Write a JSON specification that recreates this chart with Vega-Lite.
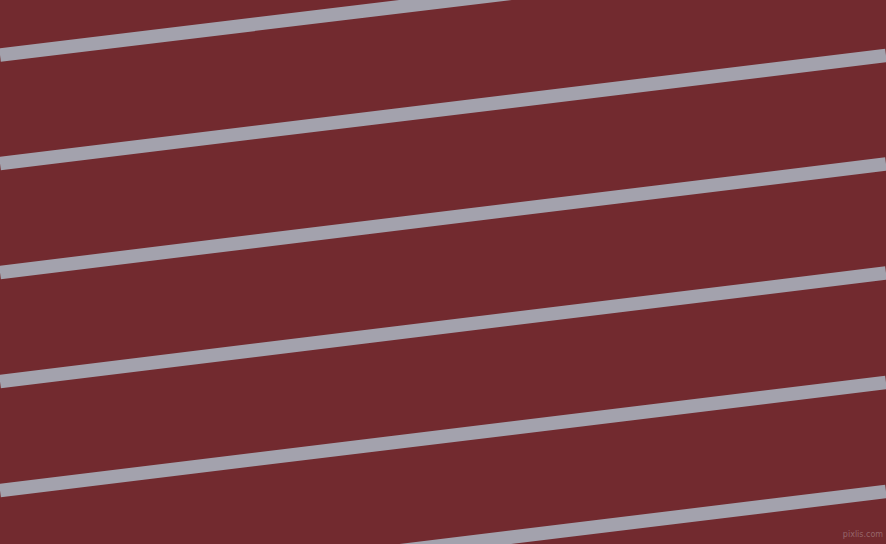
{
  "$schema": "https://vega.github.io/schema/vega-lite/v6.json",
  "width": 886,
  "height": 544,
  "padding": 0,
  "autosize": {"type": "fit", "contains": "padding"},
  "background": "#722a2f",
  "config": {
    "view": {"stroke": null, "fill": "#722a2f"}
  },
  "datasets": {
    "stripes": [
      {"stripe": 1, "x": 0, "y": 55},
      {"stripe": 1, "x": 886, "y": -52},
      {"stripe": 2, "x": 0, "y": 163.5},
      {"stripe": 2, "x": 886, "y": 55.5},
      {"stripe": 3, "x": 0, "y": 272.5},
      {"stripe": 3, "x": 886, "y": 164},
      {"stripe": 4, "x": 0, "y": 381.5},
      {"stripe": 4, "x": 886, "y": 273},
      {"stripe": 5, "x": 0, "y": 490.5},
      {"stripe": 5, "x": 886, "y": 382.5},
      {"stripe": 6, "x": 0, "y": 599.5},
      {"stripe": 6, "x": 886, "y": 491.5}
    ],
    "mark": [
      {"x": 863, "y": 535, "label": "pixlis.com"}
    ]
  },
  "layer": [
    {
      "data": {"name": "stripes"},
      "mark": {"type": "line", "color": "#a3a2ad", "strokeWidth": 13.5, "clip": true, "strokeCap": "butt"},
      "encoding": {
        "x": {"field": "x", "type": "quantitative", "scale": {"domain": [0, 886], "nice": false, "zero": false}, "axis": null},
        "y": {"field": "y", "type": "quantitative", "scale": {"domain": [0, 544], "nice": false, "zero": false, "reverse": true}, "axis": null},
        "detail": {"field": "stripe", "type": "nominal"}
      }
    },
    {
      "data": {"name": "mark"},
      "mark": {"type": "text", "color": "#96666a", "fontSize": 8, "font": "DejaVu Sans", "align": "center", "baseline": "middle"},
      "encoding": {
        "x": {"field": "x", "type": "quantitative"},
        "y": {"field": "y", "type": "quantitative"},
        "text": {"field": "label", "type": "nominal"}
      }
    }
  ]
}
